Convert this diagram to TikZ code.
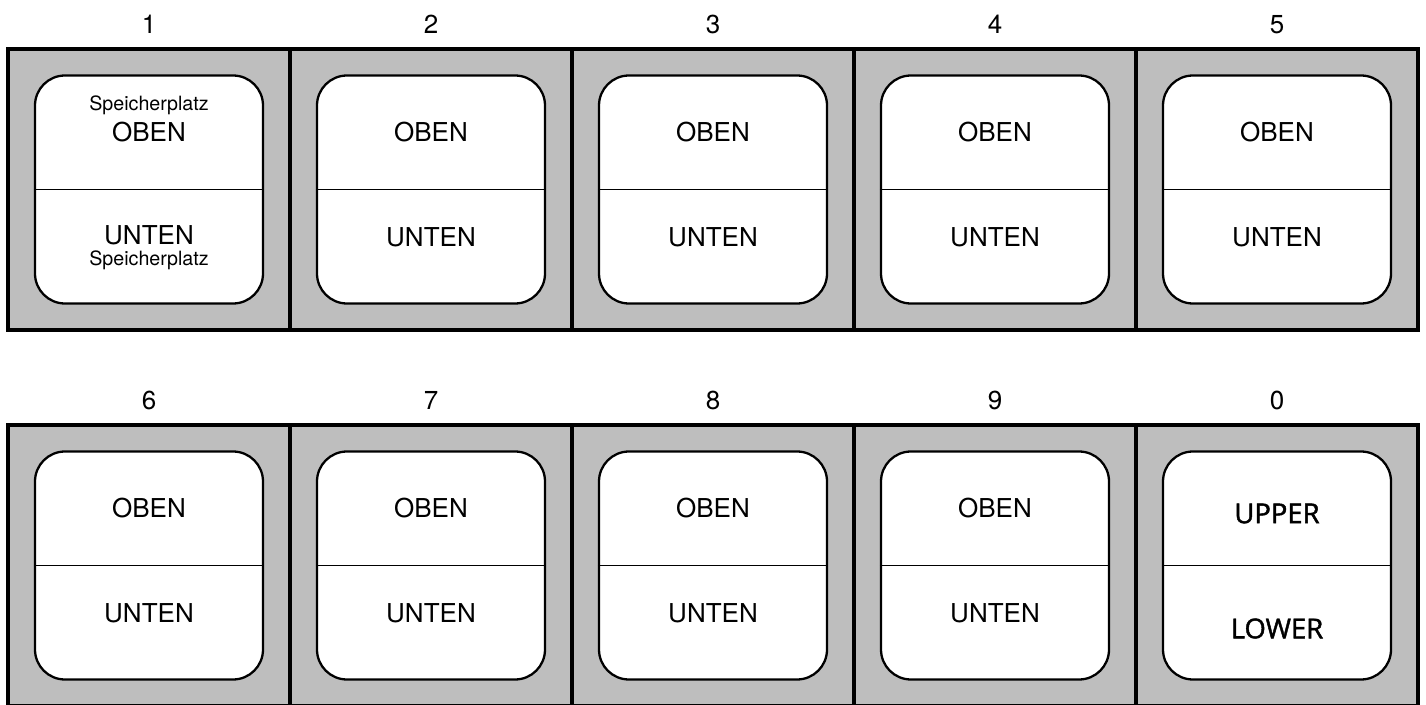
\documentclass[tikz,border=0pt]{standalone}
\usepackage{fontspec}
\setmainfont{TeX Gyre Heros}
\newfontfamily\keyfont[FakeBold=1.6]{Open Sans}
\usetikzlibrary{positioning}
\definecolor{panelgray}{RGB}{190,190,190}

\begin{document}
\begin{tikzpicture}[
          panel/.style={draw, line width=0.9pt, fill=panelgray, minimum width=2.82cm, minimum height=2.81cm, inner sep=0pt},
          key/.style={draw, line width=0.65pt, fill=white, rounded corners=0.3cm, minimum size=2.28cm, inner sep=0pt},
          lbl/.style={font=\fontsize{7.4}{8}\selectfont, inner sep=0pt},
          tiny/.style={font=\fontsize{5.6}{6}\selectfont, inner sep=0pt},
          eng/.style={font=\keyfont\fontsize{7.8}{9}\selectfont, inner sep=0pt}
        ]
        \useasboundingbox (0,0) rectangle (14.26,7.04);

        % tasten mit nummer
        \foreach \n/\x/\y in {1/1.49/5.145, 2/4.31/5.145, 3/7.13/5.145, 4/9.95/5.145, 5/12.77/5.145,
                              6/1.49/1.385, 7/4.31/1.385, 8/7.13/1.385, 9/9.95/1.385, 0/12.77/1.385} {
          \node[panel] (p\n) at (\x,\y) {};
          \node[key] (k\n) at (p\n.center) {};
          \draw[line width=0.5pt] (k\n.west) -- (k\n.east);
          \node[lbl] (n\n) at ([yshift=0.23cm]p\n.north) {\n};
        }

        % beschriftung
        \foreach \n in {2,...,9} {
          \node[lbl] (o\n) at ([yshift=0.57cm]k\n.center) {OBEN};
          \node[lbl] (u\n) at ([yshift=-0.48cm]k\n.center) {UNTEN};
        }
        \node[lbl]  (o1) at ([yshift=0.57cm]k1.center) {OBEN};
        \node[tiny] (s1) at ([yshift=0.84cm]k1.center) {Speicherplatz};
        \node[lbl]  (u1) at ([yshift=-0.46cm]k1.center) {UNTEN};
        \node[tiny] (t1) at ([yshift=-0.71cm]k1.center) {Speicherplatz};
        \node[eng]  (o0) at ([yshift=0.52cm]k0.center) {UPPER};
        \node[eng]  (u0) at ([yshift=-0.63cm]k0.center) {LOWER};
      \end{tikzpicture}
\end{document}
